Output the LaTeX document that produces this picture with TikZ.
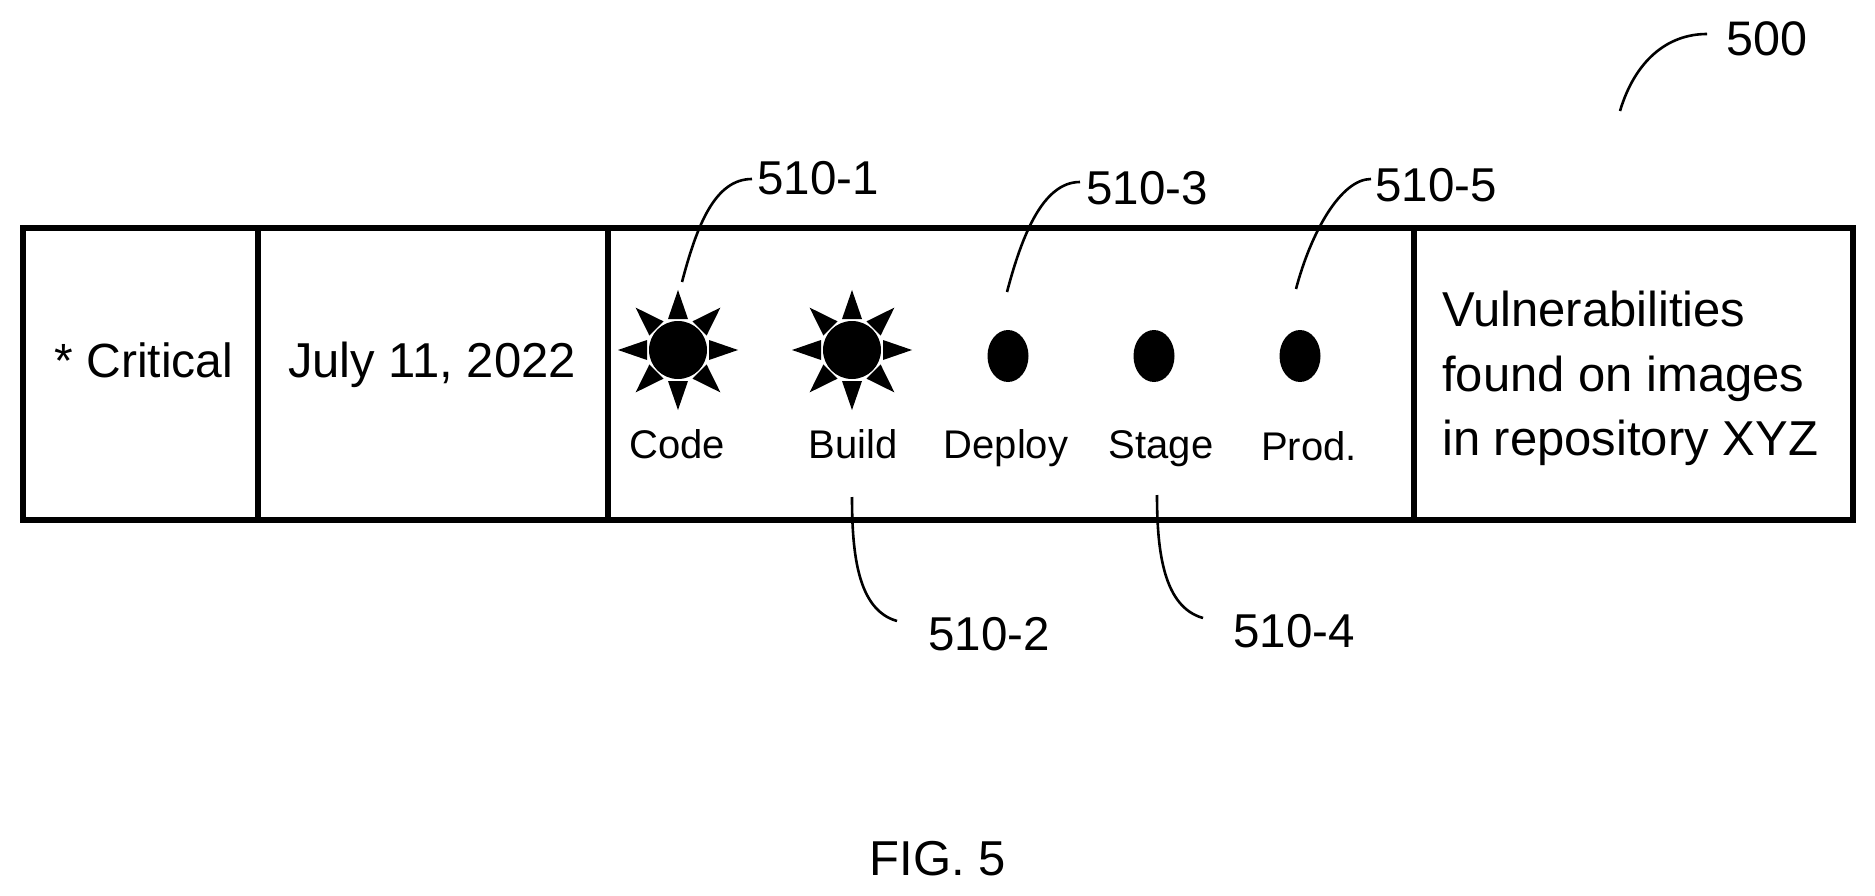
\documentclass[tikz,border=0pt]{standalone}
\usepackage{fontspec}
\setmainfont{Liberation Sans}
\usetikzlibrary{shapes.geometric,calc}
\newcommand{\fsz}[1]{\fontsize{#1}{#1}\selectfont}
\tikzset{
  x=1pt,y=-1pt,
  cell/.style={draw=black,line width=6pt,minimum height=292pt,inner sep=0pt,outer sep=0pt,anchor=north west,fill=none},
  big/.style={font=\fsz{49},inner sep=0pt,text=black},
  small/.style={font=\fsz{40},inner sep=0pt,anchor=base,text=black},
  ref/.style={font=\fsz{47.5},inner sep=0pt,anchor=west,text=black},
  leader/.style={draw=black,line width=2.6pt},
  dot/.style={fill=black,draw=none,ellipse,minimum width=41pt,minimum height=52pt,inner sep=0pt},
  core/.style={fill=black,draw=none,circle,minimum size=58pt,inner sep=0pt},
}
\newcommand{\sunspikes}[1]{%
  \foreach \a in {0,90,180,270}{
    \fill[black,shift={(#1)},rotate=\a] (60,0) -- (31,10) -- (31,-10) -- cycle;
  }
  \foreach \a in {45,135,225,315}{
    \fill[black,shift={(#1)},rotate=\a] (60,0) -- (30.5,10) -- (30.5,-10) -- cycle;
  }}
\begin{document}
\begin{tikzpicture}
\useasboundingbox (0,0) rectangle (1875,896);
% table cells
\node[cell,minimum width=235pt] (c1) at (23,228) {};
\node[cell,minimum width=350pt] (c2) at (258,228) {};
\node[cell,minimum width=806pt] (c3) at (608,228) {};
\node[cell,minimum width=439pt] (c4) at (1414,228) {};
% cell texts
\node[big,font=\fsz{48},anchor=base] (tcrit) at (144,377) {* Critical};
\node[big,anchor=base] (tdate) at (432,377) {July 11, 2022};
\node[big,anchor=base west] (tv1) at (1442,326) {Vulnerabilities};
\node[big,anchor=base west] (tv2) at (1442,391) {found on images};
\node[big,anchor=base west] (tv3) at (1442,455) {in repository XYZ};
% stage icons
\node[core] (s1) at (678,350) {};
\node[core] (s2) at (852,350) {};
\sunspikes{678,350}
\sunspikes{852,350}
\node[dot] (s3) at (1008,356) {};
\node[dot] (s4) at (1154,356) {};
\node[dot] (s5) at (1300,356) {};
% stage labels
\node[small] (l1) at (677,458) {Code};
\node[small] (l2) at (853,458) {Build};
\node[small] (l3) at (1006,458) {Deploy};
\node[small] (l4) at (1161,458) {Stage};
\node[small] (l5) at (1309,460) {Prod.};
% reference numerals
\node[ref] (r1) at (757,178) {510-1};
\node[ref] (r2) at (928,634) {510-2};
\node[ref] (r3) at (1086,188) {510-3};
\node[ref] (r4) at (1233,631) {510-4};
\node[ref] (r5) at (1375,185) {510-5};
\node[font=\fsz{48.5},inner sep=0pt,anchor=west] (r0) at (1726,39) {500};
\node[font=\fsz{49},inner sep=0pt] (fig) at (938,859) {FIG. 5};
% leader free ends
\coordinate (a1) at (682,282);
\coordinate (a2) at (852,497);
\coordinate (a3) at (1007,292);
\coordinate (a4) at (1157,495);
\coordinate (a5) at (1296,289);
\coordinate (a0) at (1620,111);
\draw[leader] (a1) .. controls +(15,-57) and +(-37,0) .. ([xshift=-5pt,yshift=-1pt]r1.west);
\draw[leader] (a3) .. controls +(15,-57) and +(-37,0) .. ([xshift=-6pt,yshift=6pt]r3.west);
\draw[leader] (a5) .. controls +(15,-57) and +(-30,0) .. ([xshift=-4pt,yshift=6pt]r5.west);
\draw[leader] (a2) .. controls +(0,58) and +(-39,-11) .. ([xshift=-31pt,yshift=13pt]r2.west);
\draw[leader] (a4) .. controls +(0,58) and +(-39,-11) .. ([xshift=-30pt,yshift=13pt]r4.west);
\draw[leader] (a0) .. controls +(15,-50) and +(-40,0) .. ([xshift=-19pt,yshift=5pt]r0.west);
\end{tikzpicture}
\end{document}
